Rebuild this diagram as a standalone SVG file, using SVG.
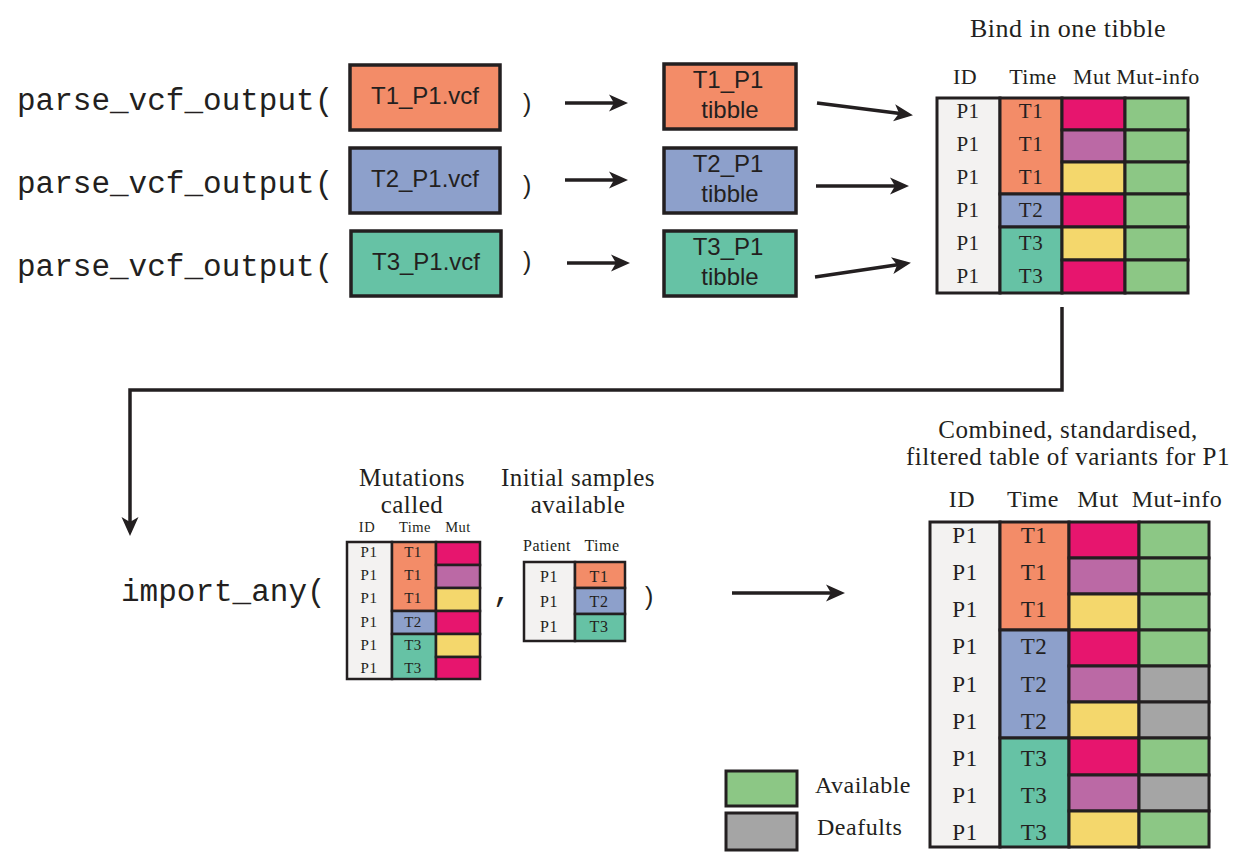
<svg xmlns="http://www.w3.org/2000/svg" width="1248" height="863" viewBox="0 0 1248 863">
<defs>
<marker id="ah" markerUnits="userSpaceOnUse" markerWidth="20" markerHeight="18" viewBox="0 0 20 18" refX="14" refY="9" orient="auto">
<path d="M0,0.5 L19,9 L0,17.5 L5,9 Z" fill="#231F20"/>
</marker>
<style>
.mono{font-family:"Liberation Mono","Courier New",monospace;font-size:31px;fill:#231F20}
.sans{font-family:"Liberation Sans",Arial,sans-serif;fill:#231F20}
.serif{font-family:"Liberation Serif","Times New Roman",serif;fill:#231F20;letter-spacing:0.5px}
.box{stroke:#231F20;stroke-width:3.5}
.cell{stroke:#231F20;stroke-width:3}
.scell{stroke:#231F20;stroke-width:2.5}
.c1{fill:#F38C68}.c2{fill:#8DA0CB}.c3{fill:#66C2A5}
.id{fill:#F3F2F1}.mg{fill:#E7156E}.pu{fill:#BB69A5}.ye{fill:#F4D76C}.gr{fill:#8CC785}.gy{fill:#A5A5A5}
.conn{stroke:#231F20;stroke-width:3.5;fill:none}
</style>
</defs>

<g id="parse-calls">
<text class="mono" x="17" y="110">parse_vcf_output(</text>
<text class="mono" x="17" y="193">parse_vcf_output(</text>
<text class="mono" x="17" y="276">parse_vcf_output(</text>
<text class="sans" x="523" y="112" font-size="25">)</text>
<text class="sans" x="523" y="194" font-size="25">)</text>
<text class="sans" x="523" y="270" font-size="25">)</text>
</g>

<g id="vcf-t1">
<rect class="box c1" x="350" y="65" width="150" height="65"/>
<text class="sans" x="425" y="104" font-size="24" text-anchor="middle">T1_P1.vcf</text>
</g>
<g id="vcf-t2">
<rect class="box c2" x="350" y="148" width="150" height="65"/>
<text class="sans" x="425" y="187" font-size="24" text-anchor="middle">T2_P1.vcf</text>
</g>
<g id="vcf-t3">
<rect class="box c3" x="351" y="231" width="150" height="65"/>
<text class="sans" x="426" y="270" font-size="24" text-anchor="middle">T3_P1.vcf</text>
</g>

<g id="tibble-t1">
<rect class="box c1" x="664" y="64" width="132" height="65"/>
<text class="sans" x="728" y="88" font-size="24" text-anchor="middle">T1_P1</text>
<text class="sans" x="730" y="118" font-size="24" text-anchor="middle">tibble</text>
</g>
<g id="tibble-t2">
<rect class="box c2" x="664" y="148" width="132" height="65"/>
<text class="sans" x="728" y="172" font-size="24" text-anchor="middle">T2_P1</text>
<text class="sans" x="730" y="202" font-size="24" text-anchor="middle">tibble</text>
</g>
<g id="tibble-t3">
<rect class="box c3" x="664" y="231" width="132" height="65"/>
<text class="sans" x="728" y="255" font-size="24" text-anchor="middle">T3_P1</text>
<text class="sans" x="730" y="285" font-size="24" text-anchor="middle">tibble</text>
</g>

<g id="bound-table">
<text class="serif" x="1068" y="37" font-size="26" text-anchor="middle">Bind in one tibble</text>
<g class="serif" font-size="22" text-anchor="middle">
<text x="965" y="84">ID</text><text x="1033" y="84">Time</text><text x="1092" y="84">Mut</text><text x="1158" y="84">Mut-info</text>
</g>
<rect class="cell id" x="937" y="98" width="63" height="195"/>
<rect class="cell c1" x="1000" y="98" width="62" height="96"/>
<rect class="cell c2" x="1000" y="194" width="62" height="33"/>
<rect class="cell c3" x="1000" y="227" width="62" height="66"/>
<rect class="cell mg" x="1062" y="98" width="63" height="32"/>
<rect class="cell pu" x="1062" y="130" width="63" height="32"/>
<rect class="cell ye" x="1062" y="162" width="63" height="32"/>
<rect class="cell mg" x="1062" y="194" width="63" height="33"/>
<rect class="cell ye" x="1062" y="227" width="63" height="33"/>
<rect class="cell mg" x="1062" y="260" width="63" height="33"/>
<rect class="cell gr" x="1125" y="98" width="63" height="32"/>
<rect class="cell gr" x="1125" y="130" width="63" height="32"/>
<rect class="cell gr" x="1125" y="162" width="63" height="32"/>
<rect class="cell gr" x="1125" y="194" width="63" height="33"/>
<rect class="cell gr" x="1125" y="227" width="63" height="33"/>
<rect class="cell gr" x="1125" y="260" width="63" height="33"/>
<g class="serif" font-size="21" text-anchor="middle">
<text x="968" y="118">P1</text><text x="968" y="151">P1</text><text x="968" y="184">P1</text>
<text x="968" y="217">P1</text><text x="968" y="250">P1</text><text x="968" y="283">P1</text>
<text x="1031" y="118">T1</text><text x="1031" y="151">T1</text><text x="1031" y="184">T1</text>
<text x="1031" y="217">T2</text><text x="1031" y="250">T3</text><text x="1031" y="283">T3</text>
</g>
</g>

<g id="import-call">
<text class="mono" x="121" y="601">import_any(</text>
<text class="mono" x="502" y="601" text-anchor="middle">,</text>
<text class="sans" x="645" y="605" font-size="25">)</text>
</g>

<g id="mutations-table">
<g class="serif" font-size="25" text-anchor="middle">
<text x="412" y="486">Mutations</text><text x="412" y="513">called</text>
</g>
<g class="serif" font-size="14.5" text-anchor="middle">
<text x="367" y="532">ID</text><text x="415" y="532">Time</text><text x="458" y="532">Mut</text>
</g>
<rect class="scell id" x="347" y="542" width="45" height="137"/>
<rect class="scell c1" x="392" y="542" width="44" height="69"/>
<rect class="scell c2" x="392" y="611" width="44" height="23"/>
<rect class="scell c3" x="392" y="634" width="44" height="45"/>
<rect class="scell mg" x="436" y="542" width="44" height="23"/>
<rect class="scell pu" x="436" y="565" width="44" height="23"/>
<rect class="scell ye" x="436" y="588" width="44" height="23"/>
<rect class="scell mg" x="436" y="611" width="44" height="23"/>
<rect class="scell ye" x="436" y="634" width="44" height="23"/>
<rect class="scell mg" x="436" y="657" width="44" height="22"/>
<g class="serif" font-size="15" text-anchor="middle">
<text x="369" y="557">P1</text><text x="369" y="580">P1</text><text x="369" y="603">P1</text>
<text x="369" y="627">P1</text><text x="369" y="650">P1</text><text x="369" y="673">P1</text>
<text x="413" y="557">T1</text><text x="413" y="580">T1</text><text x="413" y="603">T1</text>
<text x="413" y="627">T2</text><text x="413" y="650">T3</text><text x="413" y="673">T3</text>
</g>
</g>

<g id="samples-table">
<g class="serif" font-size="25" text-anchor="middle">
<text x="578" y="486">Initial samples</text><text x="578" y="513">available</text>
</g>
<g class="serif" font-size="16" text-anchor="middle">
<text x="547" y="551">Patient</text><text x="602" y="551">Time</text>
</g>
<rect class="scell id" x="524" y="562" width="51" height="79"/>
<rect class="scell c1" x="575" y="562" width="50" height="26"/>
<rect class="scell c2" x="575" y="588" width="50" height="26"/>
<rect class="scell c3" x="575" y="614" width="50" height="27"/>
<g class="serif" font-size="16" text-anchor="middle">
<text x="549" y="582">P1</text><text x="549" y="607">P1</text><text x="549" y="632">P1</text>
<text x="599" y="582">T1</text><text x="599" y="607">T2</text><text x="599" y="632">T3</text>
</g>
</g>

<g id="final-table">
<g class="serif" font-size="25" text-anchor="middle">
<text x="1068" y="438">Combined, standardised,</text>
<text x="1068" y="465">filtered table of variants for P1</text>
</g>
<g class="serif" font-size="24" text-anchor="middle">
<text x="962" y="507">ID</text><text x="1033" y="507">Time</text><text x="1098" y="507">Mut</text><text x="1177" y="507">Mut-info</text>
</g>
<rect class="cell id" x="930" y="522" width="70" height="325"/>
<rect class="cell c1" x="1000" y="522" width="69" height="108"/>
<rect class="cell c2" x="1000" y="630" width="69" height="108"/>
<rect class="cell c3" x="1000" y="738" width="69" height="109"/>
<rect class="cell mg" x="1069" y="522" width="70" height="36"/>
<rect class="cell pu" x="1069" y="558" width="70" height="36"/>
<rect class="cell ye" x="1069" y="594" width="70" height="36"/>
<rect class="cell mg" x="1069" y="630" width="70" height="36"/>
<rect class="cell pu" x="1069" y="666" width="70" height="36"/>
<rect class="cell ye" x="1069" y="702" width="70" height="36"/>
<rect class="cell mg" x="1069" y="738" width="70" height="37"/>
<rect class="cell pu" x="1069" y="775" width="70" height="36"/>
<rect class="cell ye" x="1069" y="811" width="70" height="36"/>
<rect class="cell gr" x="1139" y="522" width="70" height="36"/>
<rect class="cell gr" x="1139" y="558" width="70" height="36"/>
<rect class="cell gr" x="1139" y="594" width="70" height="36"/>
<rect class="cell gr" x="1139" y="630" width="70" height="36"/>
<rect class="cell gy" x="1139" y="666" width="70" height="36"/>
<rect class="cell gy" x="1139" y="702" width="70" height="36"/>
<rect class="cell gr" x="1139" y="738" width="70" height="37"/>
<rect class="cell gy" x="1139" y="775" width="70" height="36"/>
<rect class="cell gr" x="1139" y="811" width="70" height="36"/>
<g class="serif" font-size="23" text-anchor="middle">
<text x="965" y="543">P1</text><text x="965" y="580">P1</text><text x="965" y="617">P1</text>
<text x="965" y="654">P1</text><text x="965" y="692">P1</text><text x="965" y="729">P1</text>
<text x="965" y="766">P1</text><text x="965" y="803">P1</text><text x="965" y="840">P1</text>
<text x="1034" y="543">T1</text><text x="1034" y="580">T1</text><text x="1034" y="617">T1</text>
<text x="1034" y="654">T2</text><text x="1034" y="692">T2</text><text x="1034" y="729">T2</text>
<text x="1034" y="766">T3</text><text x="1034" y="803">T3</text><text x="1034" y="840">T3</text>
</g>
</g>

<g id="legend">
<rect class="cell gr" x="726" y="771" width="71" height="35"/>
<rect class="cell gy" x="726" y="813" width="71" height="37"/>
<text class="serif" x="815" y="793" font-size="24">Available</text>
<text class="serif" x="817" y="835" font-size="24">Deafults</text>
</g>

<g id="connectors">
<line class="conn" x1="565" y1="103" x2="623" y2="103" marker-end="url(#ah)"/>
<line class="conn" x1="565" y1="180" x2="623" y2="180" marker-end="url(#ah)"/>
<line class="conn" x1="567" y1="263" x2="625" y2="263" marker-end="url(#ah)"/>
<line class="conn" x1="817" y1="103" x2="908" y2="114.5" marker-end="url(#ah)"/>
<line class="conn" x1="816" y1="186" x2="904" y2="186" marker-end="url(#ah)"/>
<line class="conn" x1="815" y1="277" x2="906" y2="263.6" marker-end="url(#ah)"/>
<path class="conn" d="M1062,307 V390 H130 V531" marker-end="url(#ah)"/>
<line class="conn" x1="732" y1="593" x2="840" y2="593" marker-end="url(#ah)"/>
</g>
</svg>
